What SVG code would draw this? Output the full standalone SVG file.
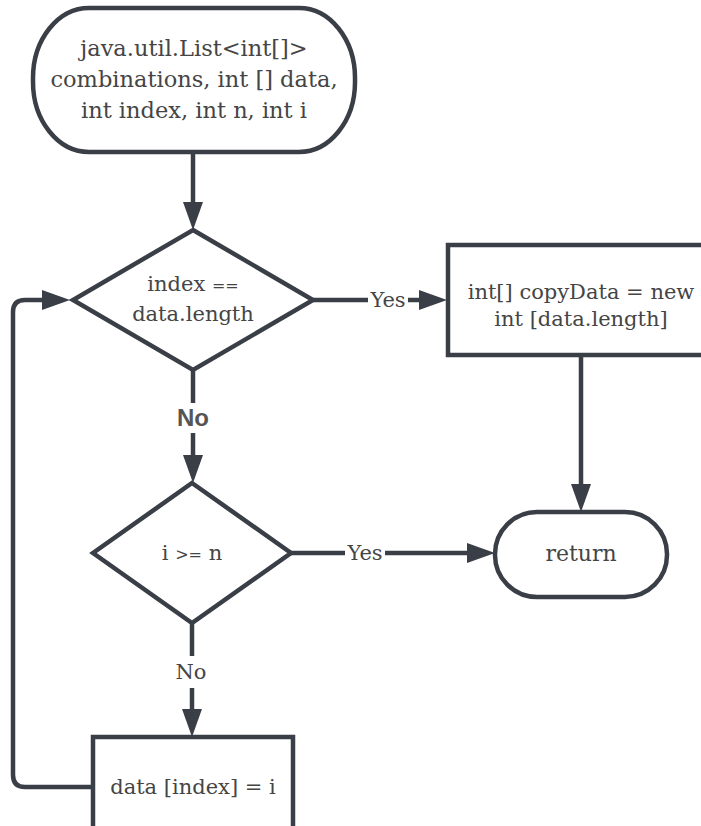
<svg xmlns="http://www.w3.org/2000/svg" width="701" height="826" viewBox="0 0 701 826">
<defs>
<style>
.shape{fill:#ffffff;stroke:#3a3f47;stroke-width:4.5}
.edge{fill:none;stroke:#3a3f47;stroke-width:4.5}
.t{font-family:"DejaVu Serif","Liberation Serif",serif;font-size:21px;fill:#454545;text-anchor:middle}
.big{font-size:22.5px}
.op{font-size:16px}
.lbl{font-family:"DejaVu Serif","Liberation Serif",serif;font-size:21px;fill:#454545;text-anchor:middle}
.lblb{font-family:"Liberation Sans",Arial,sans-serif;font-size:24px;font-weight:bold;fill:#555555;text-anchor:middle}
</style>
<marker id="arr" markerUnits="userSpaceOnUse" markerWidth="30" markerHeight="22" refX="16" refY="10" orient="auto">
<path d="M0,0 L28,10 L0,20 z" fill="#3a3f47"/>
</marker>
</defs>
<rect width="701" height="826" fill="#ffffff"/>
<g id="connectors">
<path class="edge" d="M193,152 V218" marker-end="url(#arr)"/>
<path class="edge" d="M313,300 H368"/>
<path class="edge" d="M408,300 H435" marker-end="url(#arr)"/>
<path class="edge" d="M581,355 V500" marker-end="url(#arr)"/>
<path class="edge" d="M193,370 V403"/>
<path class="edge" d="M193,433 V471" marker-end="url(#arr)"/>
<path class="edge" d="M291,553 H345"/>
<path class="edge" d="M385,553 H483" marker-end="url(#arr)"/>
<path class="edge" d="M192,623 V656"/>
<path class="edge" d="M192,688 V725" marker-end="url(#arr)"/>
<path class="edge" d="M93,787 H25 Q13,787 13,775 V312 Q13,300 25,300 H58" marker-end="url(#arr)"/>
<text class="lbl" x="388" y="307">Yes</text>
<text class="lblb" x="193" y="426">No</text>
<text class="lbl" x="365" y="560">Yes</text>
<text class="lbl" x="191" y="679">No</text>
</g>
<g id="start">
<rect class="shape" x="33" y="8" width="322" height="144" rx="56" ry="70"/>
<text class="t big" x="194" y="56">java.util.List&lt;int[]&gt;</text>
<text class="t big" x="194" y="87">combinations, int [] data,</text>
<text class="t big" x="194" y="118">int index, int n, int i</text>
</g>
<g id="check-index">
<polygon class="shape" points="193,230 313,300 193,370 73,300"/>
<text class="t" x="193" y="291">index <tspan class="op">==</tspan></text>
<text class="t" x="193" y="321">data.length</text>
</g>
<g id="copy-data">
<rect class="shape" x="448" y="245" width="266" height="110"/>
<text class="t" x="581" y="299">int[] copyData = new</text>
<text class="t" x="581" y="326">int [data.length]</text>
</g>
<g id="return">
<rect class="shape" x="495" y="512" width="172" height="85" rx="42" ry="42"/>
<text class="t" x="581" y="561" style="font-size:22px">return</text>
</g>
<g id="check-i">
<polygon class="shape" points="192,483 291,553 192,623 93,553"/>
<text class="t" x="192" y="560">i <tspan class="op">&gt;=</tspan> n</text>
</g>
<g id="assign">
<rect class="shape" x="93" y="737" width="200" height="100"/>
<text class="t" x="193" y="794">data [index] = i</text>
</g>
</svg>
